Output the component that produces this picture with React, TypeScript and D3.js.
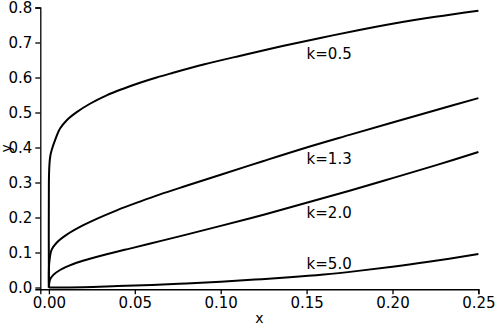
import React, { useEffect, useRef } from "react";
import * as d3 from "d3";

// tick values
const xTicks = [0, 0.05, 0.1, 0.15, 0.2, 0.25];
const yTicks = [0, 0.1, 0.2, 0.3, 0.4, 0.5, 0.6, 0.7, 0.8];

// curve labels
const kLabels = ["k=0.5", "k=1.3", "k=2.0", "k=5.0"];
const labelX = [0.15, 0.15, 0.15, 0.15];
const labelY = [0.654, 0.354, 0.199, 0.053];

// series
const k05X = [0, 0, 0.0003, 0.0008, 0.0016, 0.0036, 0.0065, 0.0104, 0.0162, 0.0239, 0.0336, 0.0433, 0.053, 0.0627, 0.0705, 0.09, 0.114, 0.136, 0.158, 0.18, 0.2, 0.225, 0.25];
const k05Y = [0, 0.3, 0.35, 0.375, 0.392, 0.421, 0.454, 0.478, 0.501, 0.525, 0.549, 0.568, 0.585, 0.6, 0.611, 0.637, 0.665, 0.69, 0.713, 0.735, 0.7535, 0.7735, 0.791];

const k13X = [0, 0.0002, 0.0016, 0.0045, 0.0104, 0.0181, 0.0278, 0.0395, 0.053, 0.0647, 0.08, 0.1, 0.125, 0.15, 0.175, 0.2, 0.225, 0.25];
const k13Y = [0, 0.07, 0.108, 0.128, 0.151, 0.173, 0.196, 0.2205, 0.2455, 0.266, 0.2905, 0.322, 0.3615, 0.4, 0.436, 0.4715, 0.5065, 0.541];

const k20X = [0, 0.0006, 0.0026, 0.0065, 0.0142, 0.0239, 0.0336, 0.05, 0.0647, 0.08, 0.1, 0.125, 0.15, 0.175, 0.2, 0.225, 0.25];
const k20Y = [0, 0.022, 0.036, 0.05, 0.067, 0.082, 0.095, 0.1147, 0.1325, 0.151, 0.176, 0.208, 0.242, 0.2765, 0.3125, 0.349, 0.387];

const k50X = [0, 0.02, 0.04, 0.06, 0.08, 0.1, 0.12, 0.14, 0.16, 0.18, 0.2, 0.22, 0.25];
const k50Y = [0, 0.001, 0.004, 0.007, 0.0115, 0.0167, 0.0227, 0.029, 0.037, 0.0475, 0.0595, 0.0728, 0.0955];

const seriesX = [k05X, k13X, k20X, k50X];
const seriesY = [k05Y, k13Y, k20Y, k50Y];

const font = "'DejaVu Sans', sans-serif";

export default function App() {
  const svgRef = useRef<SVGSVGElement>(null);
  const width = 498;
  const height = 332;

  useEffect(() => {
    document.body.style.margin = "0";
    const svg = d3.select(svgRef.current);
    svg.selectAll("*").remove();

    const margin = { top: 7.5, right: 19.6, bottom: 42.75, left: 40.3 };

    const x = d3
      .scaleLinear()
      .domain([-0.005, 0.25])
      .range([margin.left, width - margin.right]);
    const y = d3
      .scaleLinear()
      .domain([-0.005, 0.8])
      .range([height - margin.bottom, margin.top]);

    const line = d3
      .line<[number, number]>()
      .x((d) => x(d[0]))
      .y((d) => y(d[1]))
      .curve(d3.curveCatmullRom.alpha(0.5));

    // curves
    seriesX.forEach((xs, i) => {
      const pts = xs.map((v, j) => [v, seriesY[i][j]] as [number, number]);
      svg
        .append("path")
        .attr("d", line(pts))
        .attr("fill", "none")
        .attr("stroke", "#000")
        .attr("stroke-width", 2)
        .attr("stroke-linejoin", "round");
    });

    // labels
    kLabels.forEach((t, i) => {
      svg
        .append("text")
        .attr("x", x(labelX[i]))
        .attr("y", y(labelY[i]))
        .style("font-family", font)
        .style("font-size", "15px")
        .text(t);
    });

    // x axis
    const gx = svg
      .append("g")
      .attr("transform", `translate(0,${height - margin.bottom})`)
      .call(
        d3
          .axisBottom(x)
          .tickValues(xTicks)
          .tickFormat(d3.format(".2f"))
          .tickSizeOuter(0)
          .tickSize(5)
          .tickPadding(3)
      );

    // y axis
    const gy = svg
      .append("g")
      .attr("transform", `translate(${margin.left},0)`)
      .call(
        d3
          .axisLeft(y)
          .tickValues(yTicks)
          .tickFormat(d3.format(".1f"))
          .tickSizeOuter(0)
          .tickSize(5)
          .tickPadding(3)
      );

    [gx, gy].forEach((g) => {
      g.select(".domain").attr("stroke", "#000").attr("stroke-width", 1.3);
      g.selectAll(".tick line").attr("stroke", "#000").attr("stroke-width", 1.3);
      g.selectAll(".tick text")
        .attr("fill", "#000")
        .style("font-family", font)
        .style("font-size", "15px");
    });

    // axis titles
    svg
      .append("text")
      .attr("x", (margin.left + width - margin.right) / 2)
      .attr("y", 323)
      .attr("text-anchor", "middle")
      .style("font-family", font)
      .style("font-size", "14px")
      .text("x");

    svg
      .append("text")
      .attr("text-anchor", "middle")
      .attr("transform", `translate(11,${(margin.top + height - margin.bottom) / 2})rotate(-90)`)
      .style("font-family", font)
      .style("font-size", "14px")
      .text("y");
  }, []);

  return (
    <svg
      ref={svgRef}
      width={width}
      height={height}
      style={{ display: "block", background: "#fff" }}
    ></svg>
  );
}
